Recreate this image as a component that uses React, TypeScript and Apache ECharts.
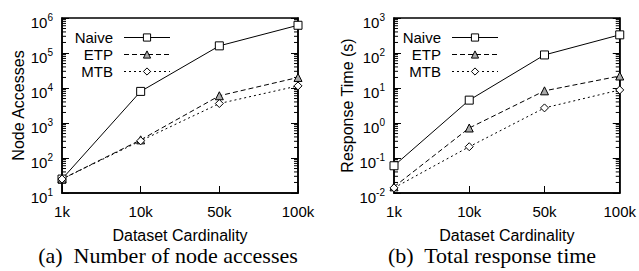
import React, { useEffect, useRef } from "react";
import * as echarts from "echarts";

const categories = ["1k", "10k", "50k", "100k"];
const seriesNames = ["Naive", "ETP", "MTB"];

// (a) Number of node accesses
const accessNaive = [25, 8000, 160000, 620000];
const accessETP = [25, 330, 6000, 20000];
const accessMTB = [25, 310, 3600, 11500];

// (b) Total response time (s)
const timeNaive = [0.06, 4.5, 88, 330];
const timeETP = [0.015, 0.72, 8.3, 22];
const timeMTB = [0.014, 0.21, 2.7, 8.8];

const accessRange = [10, 1e6];
const timeRange = [0.01, 1000];
const minorSteps = [2, 3, 4, 5, 6, 7, 8, 9];

const SANS = "Liberation Sans, Arial, sans-serif";
const SERIF = "Liberation Serif, Times New Roman, serif";

function minorTicks(range: number[]) {
  const out: number[][] = [];
  for (let d = range[0]; d < range[1] * 0.999; d *= 10) {
    for (const m of minorSteps) out.push([0, +(d * m).toPrecision(6)]);
  }
  return out;
}

const labelFormatter = (v: number) => {
  const e = Math.round(Math.log10(v));
  return `{b|10}{s|${e}}`;
};

function yAxes(gridIndex: number, range: number[]) {
  const common = {
    type: "log" as const,
    logBase: 10,
    min: range[0],
    max: range[1],
    gridIndex,
    splitLine: { show: false },
    axisLine: { show: true, lineStyle: { color: "#000", width: 1.5 } },
    axisTick: { show: true, inside: true, length: 7, lineStyle: { color: "#000", width: 1 } },
  };
  return [
    {
      ...common,
      position: "left",
      name: gridIndex === 0 ? "Node Accesses" : "Response Time (s)",
      nameLocation: "middle",
      nameGap: 35,
      nameTextStyle: { fontFamily: SANS, fontSize: 16, color: "#000" },
      axisLabel: {
        show: true,
        margin: 9,
        color: "#000",
        padding: [6, 0, 0, 0],
        formatter: labelFormatter,
        rich: {
          b: { fontFamily: SANS, fontSize: 15, color: "#000", verticalAlign: "bottom", padding: [3, 0, 0, 0] },
          s: { fontFamily: SANS, fontSize: 10, color: "#000", verticalAlign: "top" },
        },
      },
    },
    {
      ...common,
      position: "right",
      axisLabel: { show: false },
    },
  ];
}

function xAxis(gridIndex: number) {
  return {
    type: "category" as const,
    gridIndex,
    data: categories,
    boundaryGap: false,
    name: "Dataset Cardinality",
    nameLocation: "middle",
    nameGap: 34,
    nameTextStyle: { fontFamily: SANS, fontSize: 16, color: "#000", lineHeight: 16 },
    axisLine: { show: true, lineStyle: { color: "#000", width: 1.5 } },
    axisTick: { show: true, inside: true, length: 7, lineStyle: { color: "#000", width: 1 } },
    axisLabel: { fontFamily: SANS, fontSize: 15, color: "#000", margin: 11 },
    splitLine: { show: false },
  };
}

const styles = [
  { symbol: "rect", fill: "#fff", dash: "solid" as any },
  { symbol: "triangle", fill: "#aaa", dash: [5, 3] as any },
  { symbol: "diamond", fill: "#fff", dash: [2, 3] as any },
];

function lineSeries(gridIndex: number, data: number[][]) {
  return data.map((vals, i) => ({
    type: "line" as const,
    name: seriesNames[i],
    xAxisIndex: gridIndex,
    yAxisIndex: gridIndex * 2,
    data: vals,
    symbol: styles[i].symbol,
    symbolSize: 8,
    showSymbol: true,
    itemStyle: { color: styles[i].fill, borderColor: "#000", borderWidth: 1 },
    lineStyle: { color: "#000", width: 1, type: styles[i].dash },
    z: 3,
  }));
}

function minorSeries(gridIndex: number, range: number[]) {
  return {
    type: "custom" as const,
    xAxisIndex: gridIndex,
    yAxisIndex: gridIndex * 2,
    silent: true,
    z: 1,
    data: minorTicks(range),
    renderItem: (params: any, api: any) => {
      const y = api.coord([0, api.value(1)])[1];
      const cs = params.coordSys;
      return {
        type: "group",
        children: [
          { type: "line", shape: { x1: cs.x, y1: y, x2: cs.x + 4, y2: y }, style: { stroke: "#000", lineWidth: 1 } },
          {
            type: "line",
            shape: { x1: cs.x + cs.width - 4, y1: y, x2: cs.x + cs.width, y2: y },
            style: { stroke: "#000", lineWidth: 1 },
          },
        ],
      };
    },
  };
}

function legend(left: number) {
  return {
    orient: "vertical",
    align: "right",
    left,
    top: 30,
    padding: 0,
    itemWidth: 46,
    itemHeight: 9,
    itemGap: 2,
    selectedMode: false,
    data: seriesNames,
    lineStyle: { width: 1, color: "#000" },
    itemStyle: { borderWidth: 1, borderColor: "#000" },
    textStyle: {
      fontFamily: SANS,
      fontSize: 15,
      lineHeight: 15,
      color: "#000",
      width: 40,
      align: "right",
      padding: [0, 6, 0, 0],
    },
  };
}

export default function App() {
  const ref = useRef<HTMLDivElement>(null);
  useEffect(() => {
    if (!ref.current) return;
    const chart = echarts.init(ref.current, undefined, { renderer: "svg" });
    chart.setOption({
      animation: false,
      backgroundColor: "#fff",
      grid: [
        { left: 62, top: 18, width: 236, height: 175, show: true, borderColor: "#000", borderWidth: 1.5, backgroundColor: "transparent" },
        { left: 394, top: 18, width: 226, height: 175, show: true, borderColor: "#000", borderWidth: 1.5, backgroundColor: "transparent" },
      ],
      xAxis: [xAxis(0), xAxis(1)],
      yAxis: [...yAxes(0, accessRange), ...yAxes(1, timeRange)],
      legend: [legend(73), legend(401)],
      title: [
        {
          text: "(a)  Number of node accesses",
          left: 168,
          top: 255,
          textAlign: "center",
          textVerticalAlign: "middle",
          padding: 0,
          textStyle: { fontFamily: SERIF, fontSize: 22, lineHeight: 20, fontWeight: "normal", color: "#000" },
        },
        {
          text: "(b)  Total response time",
          left: 492,
          top: 255,
          textAlign: "center",
          textVerticalAlign: "middle",
          padding: 0,
          textStyle: { fontFamily: SERIF, fontSize: 22, lineHeight: 20, fontWeight: "normal", color: "#000" },
        },
      ],
      series: [
        minorSeries(0, accessRange),
        minorSeries(1, timeRange),
        ...lineSeries(0, [accessNaive, accessETP, accessMTB]),
        ...lineSeries(1, [timeNaive, timeETP, timeMTB]),
      ],
    });
    return () => chart.dispose();
  }, []);
  return <div ref={ref} style={{ position: "fixed", left: 0, top: 0, width: 639, height: 271 }} />;
}
